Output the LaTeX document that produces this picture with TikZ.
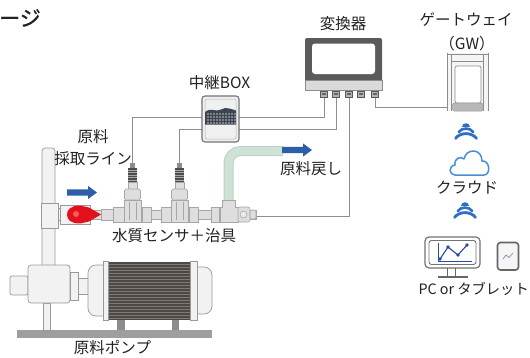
\documentclass[tikz,border=0pt]{standalone}
\usepackage{fontspec}
\setmainfont{Noto Sans CJK JP}
\newfontfamily\titlefont[AutoFakeBold=1.2]{Noto Sans CJK JP}
\usetikzlibrary{calc}

\definecolor{cablegray}{HTML}{8E8E8E}
\definecolor{pipefill}{HTML}{DEDEDE}
\definecolor{pipeedge}{HTML}{A6A6A6}
\definecolor{flowblue}{HTML}{2F5EA8}
\definecolor{wifiblue}{HTML}{2E6EC4}
\definecolor{cloudblue}{HTML}{4A8FD4}
\definecolor{retgreen}{HTML}{CFE2D5}
\definecolor{retedge}{HTML}{B9D1C1}
\definecolor{valvered}{HTML}{E2121C}
\definecolor{motordark}{HTML}{4D4845}
\definecolor{motorrib}{HTML}{807A75}
\definecolor{casegray}{HTML}{5B5B5B}
\definecolor{bandgray}{HTML}{DADADA}
\definecolor{relayband}{HTML}{3D4552}
\definecolor{chartblue}{HTML}{2B4C9C}
\definecolor{textgray}{HTML}{222222}

\tikzset{
  lbl/.style={font=\fontsize{15.5}{17}\selectfont, text=textgray, inner sep=0pt},
  cable/.style={draw=cablegray, line width=0.9pt},
  pipepart/.style={fill=pipefill, draw=pipeedge, line width=0.6pt},
  lightpart/.style={fill=black!5, draw=black!40, line width=0.7pt},
  flowarrow/.pic={
    \fill[flowblue] (0,-3.2) -- (21,-3.2) -- (21,-6.6) -- (30,0) -- (21,6.6) -- (21,3.2) -- (0,3.2) -- cycle;
  },
  signal/.pic={
    \fill[wifiblue] (-3.8,-4.5) .. controls (-3.8,-9.5) and (3.8,-9.5) .. (3.8,-4.5) -- cycle;
    \draw[wifiblue, line width=2.6pt, line cap=round] (-7.2,1) .. controls (-4,-3.6) and (4,-3.6) .. (7.2,1);
    \draw[wifiblue, line width=2.8pt, line cap=round] (-10.5,7.5) .. controls (-6,1) and (6,1) .. (10.5,7.5);
  },
  sensorunit/.pic={
    \fill[black!45] (-2.5,0) rectangle (2.5,5);
    \fill[black!70] (-4.5,5) rectangle (4.5,19);
    \foreach \yy in {7,9.5,...,17.5} \draw[black!35, line width=0.5pt] (-4.5,\yy) -- (4.5,\yy);
    \draw[pipepart] (-4.5,19) rectangle (4.5,26);
    \draw[pipepart, rounded corners=1.5pt] (-8,26) rectangle (8,37);
    \draw[pipepart] (-8.5,37) rectangle (8.5,59);
    \draw[pipeedge, line width=0.5pt] (-3.5,39) -- (-3.5,57) (3.5,39) -- (3.5,57);
  }
}

\begin{document}
\begin{tikzpicture}[x=1pt, y=-1pt]
\useasboundingbox[fill=white] (0,0) rectangle (530,357);

% ---------- title fragment ----------
\node[anchor=west, inner sep=0pt, font=\titlefont\bfseries\fontsize{21}{23}\selectfont, text=textgray] (title) at (-1,18) {ージ};

% ---------- anchor points of the equipment ----------
\coordinate (p1) at (324,98);
\coordinate (p2) at (336,98);
\coordinate (p3) at (349,98);
\coordinate (p4) at (361,98);
\coordinate (p5) at (375,98);
\coordinate (s1top) at (132.5,163);
\coordinate (s2top) at (179.5,163);
\coordinate (s1bend) at (132.5,117);
\coordinate (s2bend) at (179.5,129);
\coordinate (jigend) at (256,216);
\coordinate (gwin) at (447,107.5);

% ---------- cables ----------
\draw[cable] (p1) |- (s1bend) -- (s1top);
\draw[cable] (p2) |- (s2bend) -- (s2top);
\draw[cable] (p3) |- (jigend);
\draw[cable] (p5) |- (gwin);

% ---------- converter ----------
\node[inner sep=0pt, minimum width=77pt, minimum height=60pt] (conv) at (343.5,68) {};
\fill[casegray, rounded corners=2pt] (305,38) rectangle (382,84);
\draw[fill=bandgray, draw=black!45, line width=0.6pt] (305,80) rectangle (382,90);
\fill[white, rounded corners=3pt] (312,43.5) rectangle (375,74);
\foreach \px in {324,336,349,361,375}{
  \draw[fill=black!30, draw=black!65, line width=0.7pt] (\px-3.5,91) rectangle (\px+3.5,97.5);
  \fill[black!60] (\px-2,93) rectangle (\px+2,94.5);
}
\node[lbl] (convlbl) at (343,24) {変換器};

% ---------- relay box ----------
\node[inner sep=0pt, minimum width=37pt, minimum height=46pt] (relay) at (220.5,119) {};
\draw[fill=black!6, draw=black!55, line width=1.1pt, rounded corners=3pt] (202,96) rectangle (239,142);
\draw[draw=black!30, line width=0.5pt, rounded corners=2pt] (205,99) rectangle (236,139);
\fill[relayband] (205,112) .. controls (211,107) and (216,112.5) .. (221,109.5)
  .. controls (226,106.5) and (231,109) .. (236,110.5) -- (236,124.5) -- (205,124.5) -- cycle;
\foreach \gy in {114,117,120,123}{
  \foreach \gx in {207,210,...,234}{
    \fill[black!30!white!55!relayband] (\gx,\gy-0.7) rectangle (\gx+1.8,\gy+0.7);
  }
}
\node[lbl] (relaylbl) at (219.5,82.5) {中継BOX};

% ---------- gateway ----------
\node[inner sep=0pt, minimum width=41pt, minimum height=58pt] (gw) at (467.5,82) {};
\fill[black!4] (447,53) rectangle (488,111);
\draw[black!45, line width=0.7pt] (447,53) -- (447,111) (451.5,55) -- (451.5,111)
  (483.5,55) -- (483.5,111) (488,53) -- (488,111);
\draw[black!45, line width=0.7pt] (447,54.5) -- (488,54.5) (451.5,61) -- (483.5,61);
\draw[fill=white, draw=black!45, line width=0.7pt, rounded corners=2pt] (455,66) rectangle (481,103);
\draw[fill=black!28, draw=black!40, line width=0.5pt, rounded corners=1.5pt] (452.5,103) rectangle (483,111);
\node[lbl] (gwlbl1) at (466,20) {ゲートウェイ};
\node[lbl] (gwlbl2) at (467,44) {（GW）};

% ---------- cloud side ----------
\pic at (466,131) {signal};
\draw[cloudblue, line width=1.5pt, line join=round]
  (455,175) .. controls (449,175) and (448,166) .. (455,165)
  .. controls (454,158) and (461,156) .. (464,159)
  .. controls (466,148) and (482,148) .. (482,161)
  .. controls (490,160) and (491,175) .. (484,175) -- cycle;
\node[inner sep=0pt, minimum width=40pt, minimum height=25pt] (cloud) at (469,163) {};
\node[lbl] (cloudlbl) at (467,187.5) {クラウド};
\pic at (465,210) {signal};

% ---------- PC and tablet ----------
\node[inner sep=0pt, minimum width=55pt, minimum height=31pt] (pc) at (452.5,252.5) {};
\draw[black!55, line width=1.2pt, rounded corners=4pt] (425,237) rectangle (480,268);
\draw[black!55, line width=0.9pt, rounded corners=2.5pt] (429,240.5) rectangle (476,264.5);
\draw[chartblue, line width=1pt] (438,243) -- (438,261.5) -- (472,261.5);
\draw[chartblue, line width=1.1pt] (440,259) -- (448,247) -- (458,255) -- (467,245);
\foreach \q in {(440,259),(448,247),(458,255),(467,245)} \fill[chartblue] \q circle (1.9pt);
\draw[black!60, line width=1pt] (447.5,268) -- (447.5,276) (455,268) -- (455,276);
\draw[black!60, line width=2pt] (438,277) -- (468,277);
\node[inner sep=0pt, minimum width=22pt, minimum height=28pt] (tablet) at (508,256) {};
\draw[fill=black!4, draw=black!60, line width=1.6pt, rounded corners=3pt] (497.5,242.5) rectangle (518.5,270);
\draw[chartblue!70, line width=0.6pt] (503,259) -- (506,255) -- (509,257.5) -- (513,253);
\node[lbl, font=\fontsize{14.3}{16}\selectfont, anchor=east] (pclbl) at (529,288.5) {PC or タブレット};

% ---------- return line ----------
\draw[retedge, line width=10pt, rounded corners=12pt] (228.5,205) -- (228.5,151) -- (283,151);
\draw[retgreen, line width=8pt, rounded corners=12pt] (228.5,205) -- (228.5,151) -- (283,151);
\pic at (282,150) {flowarrow};
\node[lbl] (retlbl) at (311,169) {原料戻し};

% ---------- feed pipe and pump ----------
% vertical suction pipe
\draw[lightpart, rounded corners=3pt] (42,266) -- (42,148) -- (55,148) -- (55,266);
\draw[lightpart] (41,203) rectangle (58,228);
% base and legs
\fill[black!38] (17,330) rectangle (212,338);
\draw[lightpart] (43,303) rectangle (50,330);
\fill[black!45] (117,319) rectangle (125,330);
\fill[black!45] (172,319) rectangle (179,330);
% pump casing
\draw[lightpart, rounded corners=2pt] (10,276) rectangle (28,295);
\draw[lightpart, rounded corners=3pt] (28,265) rectangle (70,303);
\draw[lightpart] (70,272) rectangle (78,300);
\draw[lightpart] (78,278) rectangle (88,294);
% motor
\draw[lightpart, rounded corners=8pt] (103,265) -- (88,265) -- (88,316) -- (103,316);
\draw[lightpart, rounded corners=8pt] (197,267) -- (212,267) -- (212,314) -- (197,314);
\fill[motordark] (108,261.5) rectangle (190,319.5);
\foreach \ry in {264,267,...,318} \draw[motorrib, line width=0.6pt] (108,\ry) -- (190,\ry);
\draw[lightpart] (103,261) rectangle (108,320);
\draw[lightpart] (190,261) rectangle (197,320);
\node[inner sep=0pt, minimum width=124pt, minimum height=59pt] (motor) at (150,290.5) {};
\node[inner sep=0pt, minimum width=42pt, minimum height=38pt] (pump) at (49,284) {};
\node[lbl] (pumplbl) at (112.5,348) {原料ポンプ};

% sensor jig pipe run
\draw[pipepart] (58,210) rectangle (256,219);
\draw[lightpart] (58,208.5) rectangle (66,220.5);
\draw[lightpart] (60,205) rectangle (90,224);
\fill[valvered] (80,205.5) .. controls (70.5,205.5) and (67,210) .. (67,214.5)
  .. controls (67,219.5) and (70.5,223.5) .. (80,223.5) -- (89,221.5) -- (101,214.5) -- (89,207.5) -- cycle;
\fill[red!65!white] (76,214) circle (3pt);
\draw[pipepart] (101,209) rectangle (113,220);
\draw[pipepart] (113,207) rectangle (124,222);
\draw[pipepart] (142,207) rectangle (151,222);
\draw[pipepart] (161,207) rectangle (171,222);
\draw[pipepart] (189,207) rectangle (198,222);
\draw[pipepart] (211,207) rectangle (219,222);
\draw[pipepart] (222,200) -- (235,200) -- (235,207) -- (238,207) -- (238,222) -- (220,222) -- (220,207) -- (222,207) -- cycle;
\draw[pipepart, rounded corners=2pt] (238,207) rectangle (250,222);
\draw[pipeedge, fill=black!8, line width=0.6pt] (243.5,214.5) circle (3.5pt);
\draw[pipepart, rounded corners=2pt] (250,210) rectangle (256,219);
\pic at (132.5,163) {sensorunit};
\pic at (179.5,163) {sensorunit};
\node[inner sep=0pt, minimum width=198pt, minimum height=22pt] (jig) at (157,214) {};

\pic at (67,192.5) {flowarrow};
\node[lbl] (linelbl1) at (93,137) {原料};
\node[lbl] (linelbl2) at (93,158.5) {採取ライン};
\node[lbl] (jiglbl) at (174,236) {水質センサ＋治具};
\end{tikzpicture}
\end{document}
